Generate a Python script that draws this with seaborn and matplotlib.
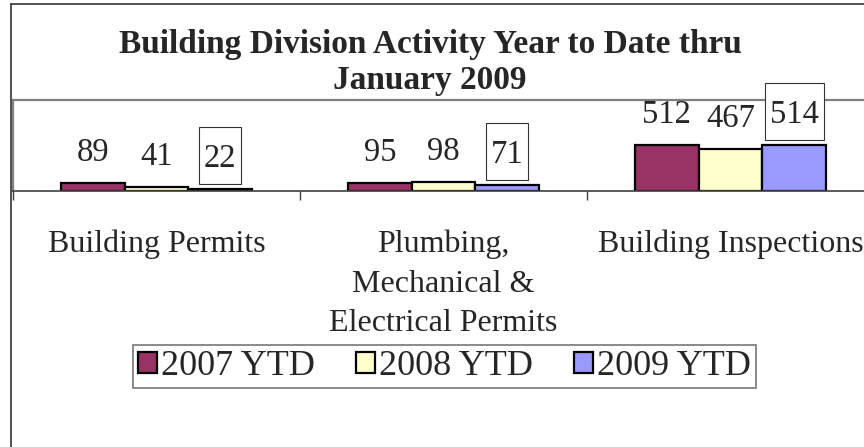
import pandas as pd
import seaborn as sns
from matplotlib import pyplot as plt
from matplotlib.patches import Patch, Rectangle
from matplotlib.lines import Line2D
from matplotlib.transforms import IdentityTransform

categories = ["Building Permits",
              "Plumbing,\nMechanical &\nElectrical Permits",
              "Building Inspections"]
years = ["2007 YTD", "2008 YTD", "2009 YTD"]
ytd_2007 = [89, 95, 512]
ytd_2008 = [41, 98, 467]
ytd_2009 = [22, 71, 514]
colors = ["#993366", "#FFFFCC", "#9999FF"]

df = pd.DataFrame({
    "category": categories * 3,
    "year": [y for y in years for _ in categories],
    "value": ytd_2007 + ytd_2008 + ytd_2009,
})

sns.set_theme(style="white")
plt.rcParams["font.family"] = ["Liberation Serif", "DejaVu Serif"]

W, H = 864, 447
fig = plt.figure(figsize=(W / 100, H / 100), dpi=100)
# plot area runs a bit past the right edge, like the original
ax = fig.add_axes([13 / W, 1 - 191 / H, (874 - 13) / W, 91 / H])

sns.barplot(data=df, x="category", y="value", hue="year", palette=colors,
            saturation=1, edgecolor="black", linewidth=1.6, width=0.665,
            gap=0, legend=False, ax=ax)

ax.set_xlim(-0.5, 2.5)
ax.set_ylim(0, 1020)
ax.set_xlabel("")
ax.set_ylabel("")
ax.set_yticks([])

ax.set_xticks(range(3))
ax.set_xticklabels(categories, fontsize=23, linespacing=1.47)
ax.set_xticks([-0.5, 0.5, 1.5, 2.5], minor=True)
ax.tick_params(axis="x", which="major", length=0, pad=28)
ax.tick_params(axis="x", which="minor", length=6.5, width=1, color="#404040",
               direction="out", bottom=True)

for side in ["top", "left", "right"]:
    ax.spines[side].set_color("#808080")
    ax.spines[side].set_linewidth(1.6)
ax.spines["bottom"].set_color("#404040")
ax.spines["bottom"].set_linewidth(1.2)

# value labels, 2009 ones boxed
fig.canvas.draw()
renderer = fig.canvas.get_renderer()
off_px = 22
for i, patch in enumerate(ax.patches[:9]):
    cx = patch.get_x() + patch.get_width() / 2
    h = patch.get_height()
    t = ax.annotate(f"{h:.0f}", (cx, h), xytext=(0, off_px * 72 / 100),
                    textcoords="offset points", ha="center", va="baseline",
                    fontsize=23.5, annotation_clip=False, zorder=6)
    if i >= 6:
        bb = t.get_window_extent(renderer)
        bx, by = ax.transData.transform((cx, h))
        base = by + off_px
        rect = Rectangle((bb.x0 - 5, base - 17), bb.width + 10, 57,
                         transform=IdentityTransform(), facecolor="white",
                         edgecolor="#333333", linewidth=0.8, zorder=5,
                         clip_on=False)
        ax.add_artist(rect)

# legend
handles = [Patch(facecolor=c, edgecolor="black", linewidth=1.6) for c in colors]
leg = fig.legend(handles, years, loc="center", ncol=3,
                 bbox_to_anchor=(444.5 / W, 1 - 366.5 / H), fontsize=26,
                 frameon=True, fancybox=False, handlelength=0.52,
                 handleheight=0.52, handletextpad=0.1, columnspacing=1.15,
                 borderpad=0.15)
leg.get_frame().set_edgecolor("#555555")
leg.get_frame().set_linewidth(1.2)

# title
fig.text(430 / W, 1 - 45 / H, "Building Division Activity Year to Date thru",
         ha="center", va="center", fontsize=24, fontweight="bold")
fig.text(430 / W, 1 - 80 / H, "January 2009",
         ha="center", va="center", fontsize=24, fontweight="bold")

# outer chart border (runs off right and bottom)
fig.add_artist(Line2D([11 / W, 11 / W], [0, 1 - 4 / H], color="#333333", lw=1.2))
fig.add_artist(Line2D([11 / W, 1], [1 - 4 / H, 1 - 4 / H], color="#333333", lw=1.2))

fig.savefig("out.png", dpi=100)
